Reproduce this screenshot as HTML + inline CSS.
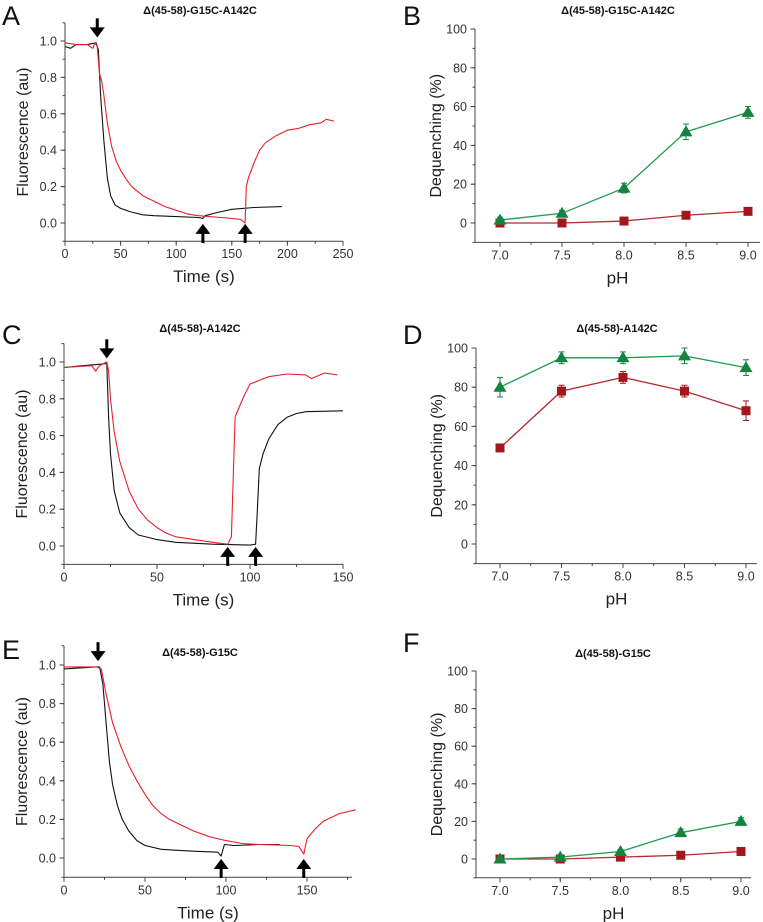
<!DOCTYPE html>
<html><head><meta charset="utf-8"><style>
html,body{margin:0;padding:0;background:#fff}
svg{display:block;font-family:"Liberation Sans",Arial,sans-serif}
</style></head><body>
<svg id="fig" width="763" height="922" viewBox="0 0 763 922"></svg>
<script>
// ---- Data: kinetic traces (time s, fluorescence au) ----
const aBlackT=[0,5,10,20,28,30,32,35,38,41,45,50,60,70,80,100,120,124,126,135,150,170,195];
const aBlackV=[0.97,0.96,0.98,0.98,0.99,0.95,0.70,0.45,0.25,0.15,0.10,0.08,0.06,0.045,0.04,0.035,0.03,0.025,0.04,0.055,0.075,0.085,0.09];
const aRedT=[0,10,20,25,27,29,31,33,35,38,42,46,50,55,60,70,80,90,100,110,120,130,140,150,158,162,163,165,170,175,180,190,200,210,220,230,235,242];
const aRedV=[0.99,0.98,0.98,0.96,0.99,0.97,0.82,0.78,0.70,0.55,0.42,0.34,0.29,0.24,0.20,0.15,0.12,0.09,0.07,0.05,0.04,0.035,0.03,0.025,0.02,0.0,0.20,0.25,0.33,0.40,0.44,0.48,0.51,0.52,0.54,0.55,0.57,0.56];
const cBlackT=[0,10,22,23,24,25,27,30,35,40,50,60,80,100,103,104,105,107,110,115,120,125,130,150];
const cBlackV=[0.97,0.98,0.99,0.99,0.70,0.50,0.30,0.18,0.10,0.06,0.035,0.02,0.01,0.005,0.01,0.20,0.42,0.50,0.58,0.66,0.70,0.72,0.73,0.735];
const cRedT=[0,15,17,19,23,24,25,27,30,35,40,45,50,55,60,70,80,88,90,92,94,97,100,105,110,120,130,133,140,147];
const cRedV=[0.97,0.98,0.95,0.98,1.0,0.95,0.80,0.62,0.46,0.30,0.20,0.14,0.10,0.07,0.05,0.035,0.02,0.01,0.05,0.70,0.75,0.82,0.88,0.90,0.92,0.935,0.93,0.91,0.94,0.93];
const eBlackT=[0,20,22,24,26,28,30,33,36,40,45,50,60,70,80,95,97,99,105,120,133];
const eBlackV=[0.98,0.99,0.99,0.90,0.70,0.50,0.38,0.27,0.20,0.14,0.09,0.065,0.045,0.04,0.035,0.03,0.01,0.07,0.065,0.07,0.07];
const eRedT=[0,20,23,26,30,35,40,45,50,55,60,65,70,80,90,100,110,120,130,140,145,148,150,155,160,170,180];
const eRedV=[0.99,0.99,0.98,0.85,0.70,0.58,0.48,0.40,0.33,0.27,0.23,0.20,0.18,0.14,0.11,0.09,0.075,0.07,0.068,0.065,0.06,0.02,0.10,0.15,0.19,0.23,0.25];
const aArrowDown=[29], aArrowUp=[124,162];
const cArrowDown=[23], cArrowUp=[88,103];
const eArrowDown=[21], eArrowUp=[97,148];
// ---- Data: pH dequenching ----
const phCats=[7.0,7.5,8.0,8.5,9.0];
const bGreen=[1.5,5,18,47,57], bGreenErr=[1.5,1.5,2.5,4,3];
const bRed=[0,0,1,4,6], bRedErr=[0.5,0.5,0.5,0.8,1];
const dGreen=[80,95,95,96,90], dGreenErr=[5,3,3,4,4];
const dRed=[49,78,85,78,68], dRedErr=[1,3,3,3,5];
const fGreen=[0,1,4,14,20], fGreenErr=[1,1,1,2,2];
const fRed=[0,0,1,2,4], fRedErr=[0.5,0.5,0.5,0.5,1];
const timeTicksA=[0,50,100,150,200,250], timeTicksC=[0,50,100,150], timeTicksE=[0,50,100,150];
const fluorTicks=[0.0,0.2,0.4,0.6,0.8,1.0];
const deqTicks=[0,20,40,60,80,100];

const NS='http://www.w3.org/2000/svg';
const svg=document.getElementById('fig');
function mk(tag,attrs,parent,text){const e=document.createElementNS(NS,tag);for(const k in attrs)e.setAttribute(k,attrs[k]);if(text!==undefined)e.textContent=text;(parent||svg).appendChild(e);return e;}

function axes(g,p,xTicks,yTicks,xFmt,yFmt,xMinorStep,yMinorStep){
  const X=v=>p.x0+(v-p.xa)*(p.x1-p.x0)/(p.xb-p.xa);
  const Y=v=>p.y0-(v-p.ya)*(p.y0-p.y1)/(p.yb-p.ya);
  const ax=mk('g',{},g);
  
  const bottom=Y(p.ymin), top=Y(p.ymax);
  mk('line',{x1:p.left,y1:bottom,x2:p.right,y2:bottom,stroke:'#444','stroke-width':1},ax);
  mk('line',{x1:p.left,y1:bottom,x2:p.left,y2:top,stroke:'#444','stroke-width':1},ax);
  for(let v=p.xminor0;v<=p.xmax+1e-9;v+=xMinorStep){const x=X(v);if(x<p.left||x>p.right)continue;mk('line',{x1:x,y1:bottom,x2:x,y2:bottom+2.5,stroke:'#444'},ax);}
  for(let v=p.ymin;v<=p.ymax+1e-9;v+=yMinorStep){mk('line',{x1:p.left,y1:Y(v),x2:p.left-2.5,y2:Y(v),stroke:'#444'},ax);}
  xTicks.forEach(v=>{const x=X(v);mk('line',{x1:x,y1:bottom,x2:x,y2:bottom+4.5,stroke:'#444'},ax);
    const t=mk('text',{x:x,y:bottom+17,'text-anchor':'middle','font-size':12.5,fill:'#333'},ax,xFmt(v));});
  yTicks.forEach(v=>{const y=Y(v);mk('line',{x1:p.left,y1:y,x2:p.left-4.5,y2:y,stroke:'#444'},ax);
    const t=mk('text',{x:p.left-8,y:y+4.5,'text-anchor':'end','font-size':12.5,fill:'#333'},ax,yFmt(v));});
  const xt=mk('text',{x:(p.left+p.right)/2,y:bottom+41,'text-anchor':'middle','font-size':17,fill:'#222'},ax,p.xlab);
  
  const cy=(top+bottom)/2, cx=p.left-p.ylabOff;
  const yt=mk('text',{x:cx,y:cy,'text-anchor':'middle','font-size':16,fill:'#222',transform:`rotate(-90 ${cx} ${cy})`,dy:6},ax,p.ylab);
  
  const tt=mk('text',{x:p.tx,y:p.ty,'text-anchor':'middle','font-size':11,'font-weight':'bold',fill:'#111'},g,p.title);
  
  const lt=mk('text',{x:p.lx,y:p.ly,'font-size':27,fill:'#111'},g,p.letter);
  
  return {X,Y};
}

function trace(g,s,T,V,color,name){
  const pts=T.map((t,i)=>s.X(t).toFixed(1)+','+s.Y(V[i]).toFixed(1)).join(' ');
  const pl=mk('polyline',{points:pts,fill:'none',stroke:color,'stroke-width':1.1,'stroke-linejoin':'round'},g);
  
  
}
function arrow(g,x,yTip,dir){
  const a=mk('g',{},g);
  
  
  const h=10,w=7.5,stem=9;
  mk('polygon',{points:`${x},${yTip} ${x-w},${yTip-dir*h} ${x+w},${yTip-dir*h}`,fill:'#000'},a);
  mk('line',{x1:x,y1:yTip-dir*(h-1),x2:x,y2:yTip-dir*(h+stem),stroke:'#000','stroke-width':3},a);
}
function kinetic(p,xTicks,bt,bv,rt,rv,down,up){
  const g=mk('g',{});
  const s=axes(g,p,xTicks,fluorTicks,v=>String(v),v=>v.toFixed(1),25,0.1);
  trace(g,s,bt,bv,'#111','black-trace');
  trace(g,s,rt,rv,'#e8202a','red-trace');
  down.forEach(t=>arrow(g,s.X(t),s.Y(1.02),1));
  up.forEach(t=>arrow(g,s.X(t),s.Y(-0.005),-1));
}
function phPanel(p,gv,ge,rv,re){
  const g=mk('g',{});
  const s=axes(g,p,phCats,deqTicks,v=>v.toFixed(1),v=>String(v),0.25,10);
  function series(vals,errs,color,lineColor,shape,name){
    const sg=mk('g',{},g);
    mk('polyline',{points:phCats.map((c,i)=>s.X(c)+','+s.Y(vals[i])).join(' '),fill:'none',stroke:lineColor,'stroke-width':1.3},sg);
    phCats.forEach((c,i)=>{const x=s.X(c),y=s.Y(vals[i]),y1=s.Y(vals[i]+errs[i]),y2=s.Y(vals[i]-errs[i]);
      mk('line',{x1:x,y1:y1,x2:x,y2:y2,stroke:color,'stroke-width':1},sg);
      mk('line',{x1:x-3,y1:y1,x2:x+3,y2:y1,stroke:color},sg);mk('line',{x1:x-3,y1:y2,x2:x+3,y2:y2,stroke:color},sg);
      let m;
      if(shape==='sq'){m=mk('rect',{x:x-4.5,y:y-4.5,width:9,height:9,fill:color},sg);}
      else{m=mk('polygon',{points:`${x},${y-6.5} ${x-6.5},${y+4.5} ${x+6.5},${y+4.5}`,fill:color},sg);}
      
    });
  }
  series(rv,re,'#a3161c','#b52a2e','sq','red-series');
  series(gv,ge,'#148240','#1d9a50','tri','green-series');
}
const base={xlab:'Time (s)',ylab:'Fluorescence (au)',ymin:-0.1,ymax:1.1,ya:0,yb:1,xminor0:0,ylabOff:43};
kinetic(Object.assign({},base,{letter:'A',title:'Δ(45-58)-G15C-A142C',tx:200,ty:14,lx:2,ly:25,
  left:65,right:343,x0:65,x1:343,xa:0,xb:250,xmax:250,y0:223,y1:41}),timeTicksA,aBlackT,aBlackV,aRedT,aRedV,aArrowDown,aArrowUp);
kinetic(Object.assign({},base,{letter:'C',title:'Δ(45-58)-A142C',tx:200,ty:332,lx:2,ly:344,
  left:64,right:343,x0:64,x1:343,xa:0,xb:150,xmax:150,y0:546,y1:362}),timeTicksC,cBlackT,cBlackV,cRedT,cRedV,cArrowDown,cArrowUp);
kinetic(Object.assign({},base,{letter:'E',title:'Δ(45-58)-G15C',tx:200,ty:656,lx:2,ly:659,
  left:64,right:352,x0:64,x1:307,xa:0,xb:150,xmax:180,y0:858,y1:665}),timeTicksE,eBlackT,eBlackV,eRedT,eRedV,eArrowDown,eArrowUp);
const pb={xlab:'pH',ylab:'Dequenching (%)',ymin:-10,ymax:100,ya:0,yb:100,xa:7,xb:9,xminor0:6.75,xmax:9.25,ylabOff:40};
phPanel(Object.assign({},pb,{letter:'B',title:'Δ(45-58)-G15C-A142C',tx:618,ty:14,lx:403,ly:25,
  left:475,right:760,x0:500,x1:748,y0:223,y1:29}),bGreen,bGreenErr,bRed,bRedErr);
phPanel(Object.assign({},pb,{letter:'D',title:'Δ(45-58)-A142C',tx:617,ty:332,lx:403,ly:344,
  left:476,right:757,x0:500,x1:746,y0:544,y1:348}),dGreen,dGreenErr,dRed,dRedErr);
phPanel(Object.assign({},pb,{letter:'F',title:'Δ(45-58)-G15C',tx:613,ty:657,lx:403,ly:652,
  left:476,right:751,x0:500,x1:741,y0:859,y1:671}),fGreen,fGreenErr,fRed,fRedErr);
</script>
</body></html>
